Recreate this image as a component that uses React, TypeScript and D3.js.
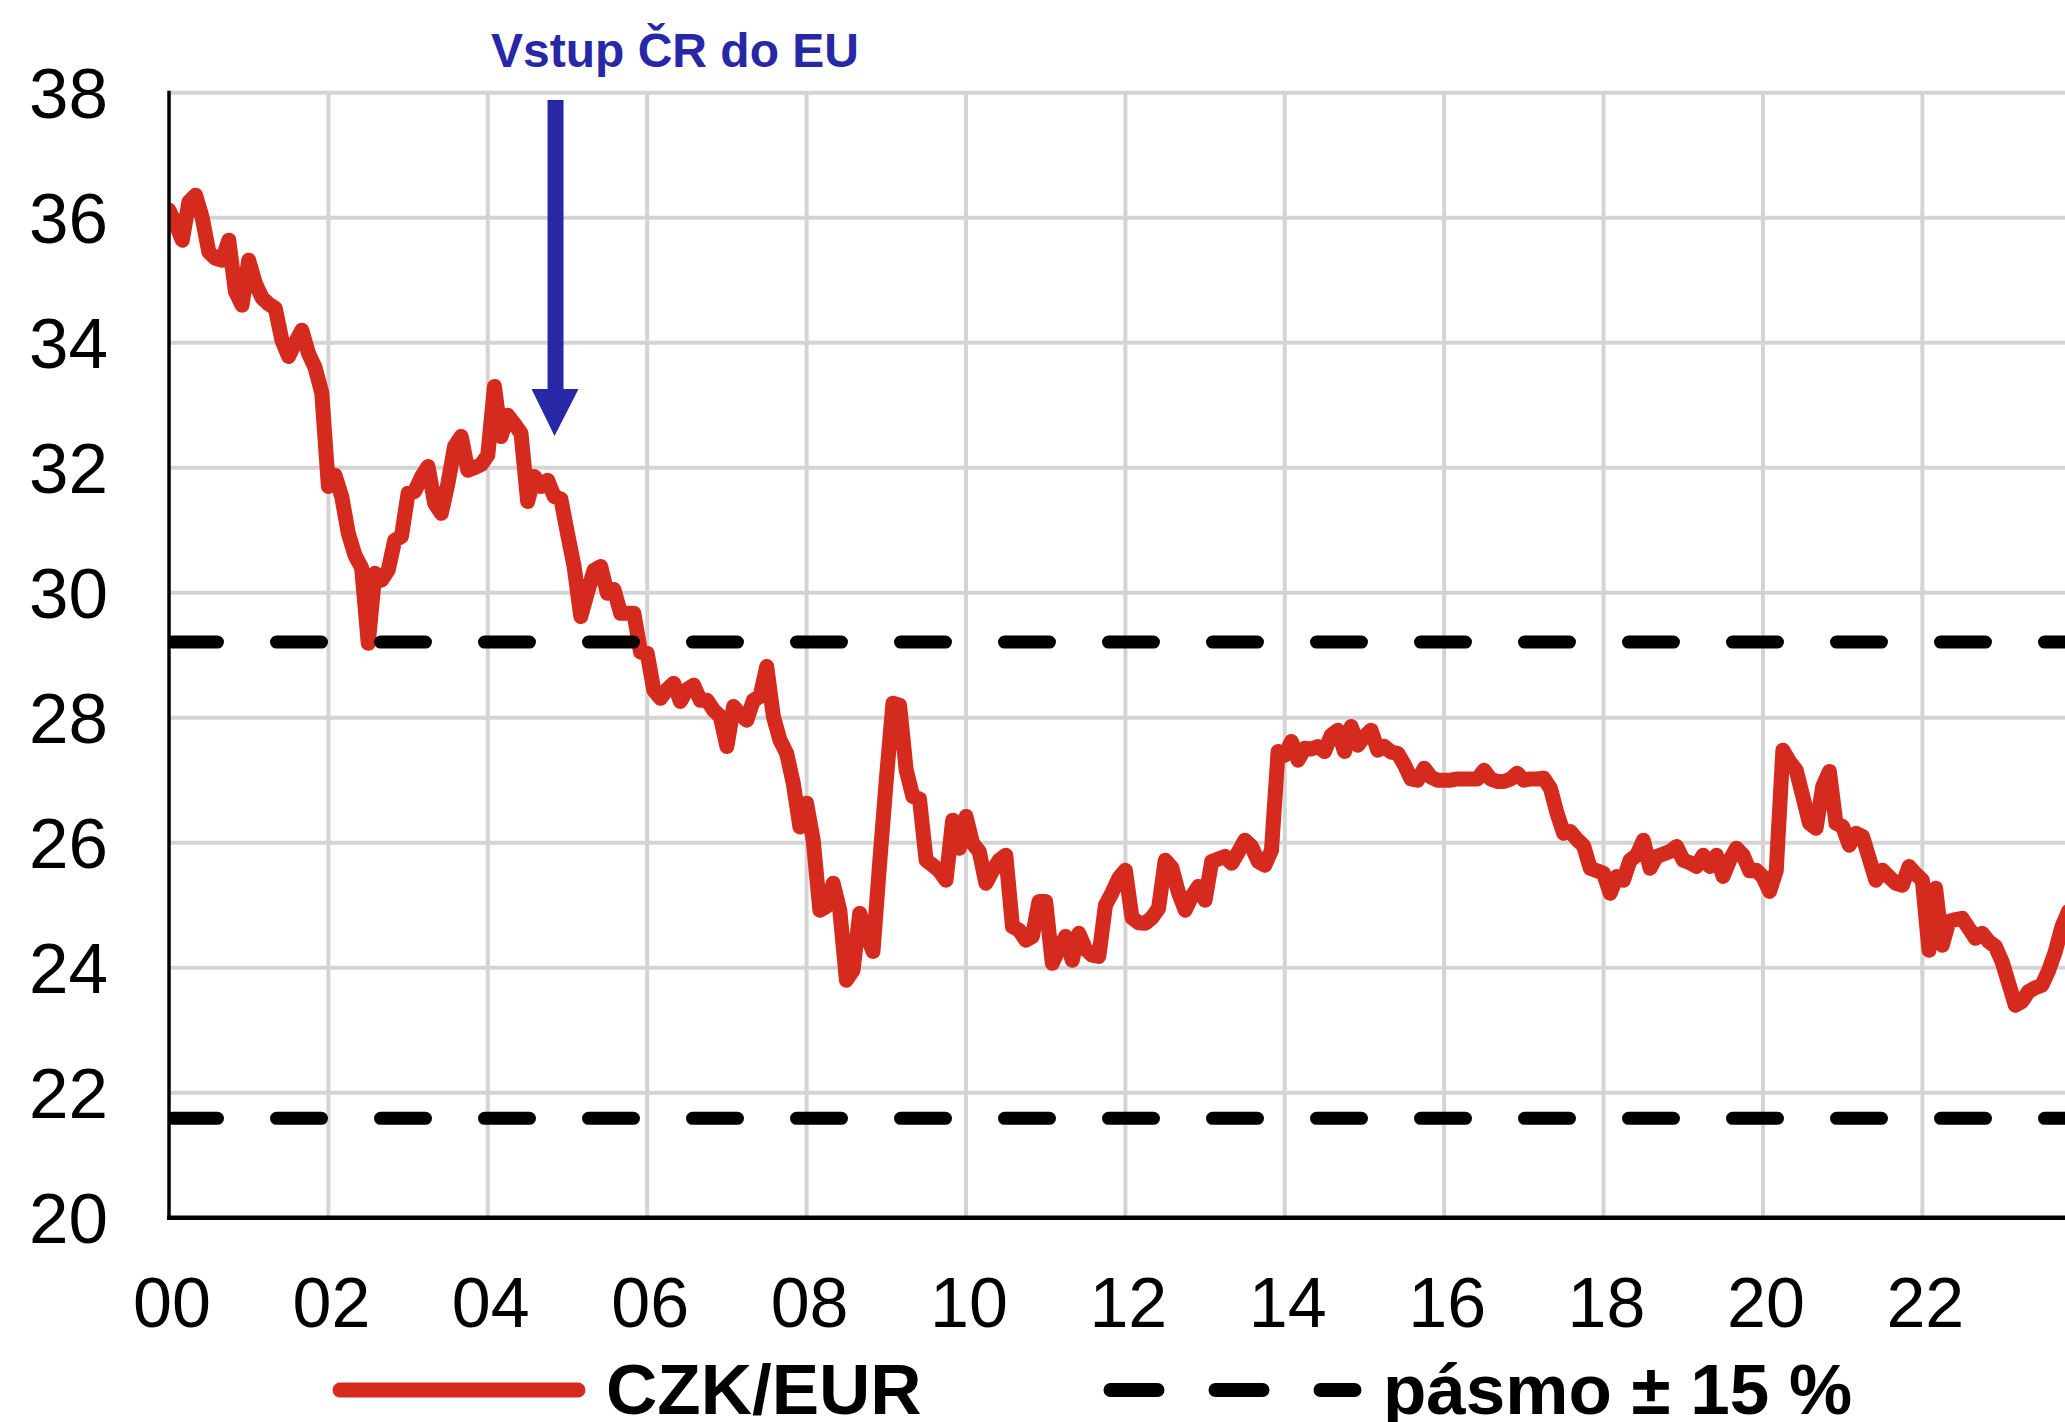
import * as d3 from "d3";

// monthly CZK/EUR, first value = January 2000
const czkEur = [
  36.12, 35.9, 35.64, 36.25, 36.36, 36.0, 35.45, 35.35, 35.32, 35.64, 34.82, 34.6,
  35.32, 34.95, 34.72, 34.62, 34.55, 34.04, 33.78, 34.0, 34.2, 33.83, 33.6, 33.2,
  31.7, 31.88, 31.54, 30.95, 30.6, 30.4, 29.19, 30.31, 30.2, 30.36, 30.84, 30.9,
  31.59, 31.62, 31.85, 32.02, 31.43, 31.27, 31.75, 32.34, 32.5, 31.96, 32.0, 32.05,
  32.2, 33.3, 32.5, 32.84, 32.7, 32.55, 31.46, 31.86, 31.7, 31.8, 31.54, 31.5,
  30.95, 30.42, 29.62, 30.0, 30.36, 30.42, 29.99, 30.05, 29.67, 29.67, 29.67, 29.05,
  29.03, 28.44, 28.31, 28.45, 28.55, 28.26, 28.45, 28.52, 28.28, 28.28, 28.12, 28.02,
  27.54, 28.18, 28.05, 27.96, 28.28, 28.34, 28.82, 28.02, 27.64, 27.43, 26.95, 26.25,
  26.63, 26.04, 24.92, 24.98, 25.35, 24.92, 23.8, 23.96, 24.87, 24.55, 24.26, 25.67,
  27.0, 28.23, 28.2, 27.16, 26.74, 26.7, 25.72, 25.64, 25.55, 25.4, 26.36, 25.91,
  26.42, 25.99, 25.86, 25.35, 25.55, 25.72, 25.8, 24.66, 24.6, 24.44, 24.5, 25.06,
  25.06, 24.07, 24.3, 24.5, 24.12, 24.55, 24.3, 24.2, 24.18, 25.0, 25.2, 25.43,
  25.56, 24.8, 24.72, 24.71, 24.8, 24.95, 25.72, 25.6, 25.2, 24.92, 25.14, 25.3,
  25.08, 25.7, 25.74, 25.78, 25.67, 25.85, 26.04, 25.94, 25.7, 25.64, 25.88, 27.46,
  27.4, 27.62, 27.32, 27.51, 27.5, 27.54, 27.46, 27.72, 27.8, 27.46, 27.86, 27.56,
  27.7, 27.8, 27.48, 27.54, 27.45, 27.43, 27.25, 27.02, 27.0, 27.19, 27.05, 27.0,
  27.0, 27.0, 27.02, 27.02, 27.02, 27.02, 27.16, 27.02, 26.98, 26.98, 27.02, 27.11,
  27.0, 27.02, 27.02, 27.03, 26.87, 26.47, 26.15, 26.18, 26.05, 25.95, 25.59, 25.55,
  25.51, 25.19, 25.46, 25.4, 25.72, 25.8, 26.04, 25.59, 25.78, 25.82, 25.86, 25.94,
  25.72, 25.68, 25.62, 25.8, 25.62, 25.8, 25.46, 25.72, 25.91, 25.8, 25.55, 25.56,
  25.45, 25.22, 25.55, 27.48, 27.3, 27.16, 26.74, 26.31, 26.23, 26.9, 27.14, 26.31,
  26.26, 25.96, 26.15, 26.1, 25.75, 25.4, 25.56, 25.45, 25.35, 25.32, 25.62, 25.5,
  25.4, 24.28, 25.27, 24.36, 24.74, 24.77, 24.79, 24.63, 24.47, 24.55, 24.42, 24.34,
  24.1, 23.75, 23.4, 23.46, 23.62, 23.68, 23.72, 23.95, 24.25, 24.65, 24.9,
];

// ±15 % band around the central rate
const bandLevels = [29.21, 21.59];

const yTicks = [20, 22, 24, 26, 28, 30, 32, 34, 36, 38];
const xTicks = [0, 2, 4, 6, 8, 10, 12, 14, 16, 18, 20, 22];
const xTickLabels = ["00", "02", "04", "06", "08", "10", "12", "14", "16", "18", "20", "22"];
const vGridYears = [2, 4, 6, 8, 10, 12, 14, 16, 18, 20, 22];

const annotationText = "Vstup ČR do EU";
const annotationYear = 4.85; // years after Jan 2000
const legendLine = "CZK/EUR";
const legendBand = "pásmo ± 15 %";

const W = 2065;
const H = 1422;
const FONT = "'Liberation Sans', Arial, Helvetica, sans-serif";
const RED = "#d52b1e";
const BLUE = "#2828a6";
const GRID = "#d4d4d4";

export default function App() {
  const left = 169;
  const top = 92.7;
  const bottom = 1217.7;

  const x = d3.scaleLinear().domain([0, 23.79]).range([left, W]);
  const y = d3.scaleLinear().domain([20, 38]).range([bottom, top]);

  const line = d3
    .line<number>()
    .x((_, i) => x(i / 12))
    .y((d) => y(d));

  const ax = x(annotationYear);

  return (
    <svg
      width={W}
      height={H}
      style={{ position: "absolute", left: 0, top: 0, background: "#fff" }}
      fontFamily={FONT}
    >
      <defs>
        <clipPath id="plot">
          <rect x={left} y={0} width={W - left} height={bottom} />
        </clipPath>
      </defs>

      {/* grid */}
      {yTicks.filter((t) => t > 20).map((t) => (
        <line key={"h" + t} x1={left} x2={W} y1={y(t)} y2={y(t)} stroke={GRID} strokeWidth={4} />
      ))}
      {vGridYears.map((t) => (
        <line key={"v" + t} x1={x(t)} x2={x(t)} y1={top} y2={bottom} stroke={GRID} strokeWidth={4} />
      ))}

      {/* series */}
      <g clipPath="url(#plot)">
        <path
          d={line(czkEur) ?? ""}
          fill="none"
          stroke={RED}
          strokeWidth={15}
          strokeLinejoin="round"
          strokeLinecap="round"
        />
        {bandLevels.map((b) => (
          <line
            key={"b" + b}
            x1={left + 3.5}
            x2={W + 20}
            y1={y(b)}
            y2={y(b)}
            stroke="#000"
            strokeWidth={13}
            strokeDasharray="45 59"
            strokeLinecap="round"
          />
        ))}
      </g>

      {/* axes */}
      <line x1={left} x2={left} y1={top - 2} y2={bottom + 2} stroke="#000" strokeWidth={3.5} />
      <line x1={left - 2} x2={W} y1={bottom} y2={bottom} stroke="#000" strokeWidth={4.5} />

      {yTicks.map((t) => (
        <text key={"yl" + t} x={108} y={y(t) + 25} textAnchor="end" fontSize={71} fill="#000">
          {t}
        </text>
      ))}
      {xTicks.map((t, i) => (
        <text key={"xl" + t} x={x(t) + 3} y={1327} textAnchor="middle" fontSize={70} fill="#000">
          {xTickLabels[i]}
        </text>
      ))}

      {/* EU entry annotation */}
      <text x={491} y={67} fontSize={48} fontWeight="bold" fill={BLUE}>
        {annotationText}
      </text>
      <line x1={ax} x2={ax} y1={100} y2={392} stroke={BLUE} strokeWidth={16} />
      <polygon points={`${ax - 24},389 ${ax + 23},389 ${ax - 1},436`} fill={BLUE} />

      {/* legend */}
      <line x1={340} x2={578} y1={1390} y2={1390} stroke={RED} strokeWidth={15} strokeLinecap="round" />
      <text x={606} y={1414} fontSize={71} fontWeight="bold" fill="#000">
        {legendLine}
      </text>
      <line
        x1={1110.5}
        x2={1354.5}
        y1={1390}
        y2={1390}
        stroke="#000"
        strokeWidth={14}
        strokeDasharray="47 58"
        strokeLinecap="round"
      />
      <text x={1383} y={1414} fontSize={71} fontWeight="bold" fill="#000">
        {legendBand}
      </text>
    </svg>
  );
}
